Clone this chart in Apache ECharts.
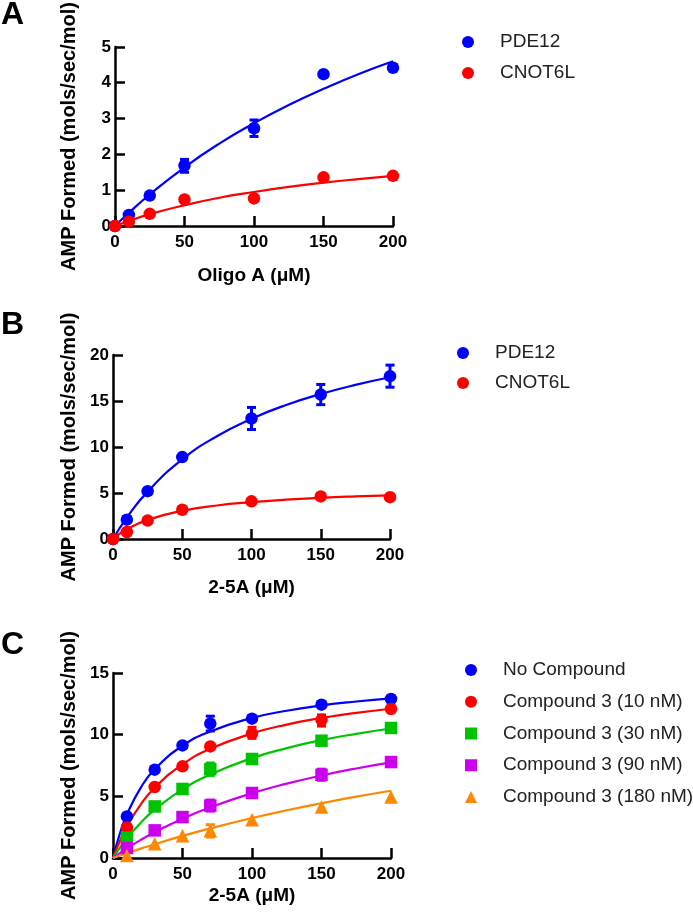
<!DOCTYPE html>
<html><head><meta charset="utf-8">
<script src="https://cdn.jsdelivr.net/npm/echarts@6/dist/echarts.min.js"></script>
<style>html,body{margin:0;padding:0;background:#fff}#c{width:693px;height:914px}</style>
</head><body><div id="c"></div>
<script>
// ---------- Panel A ----------
const xA = [0, 10, 25, 50, 100, 150, 200];
const pde12A = [0, 0.31, 0.85, 1.69, 2.73, 4.24, 4.42];
const cnotA = [0, 0.12, 0.34, 0.74, 0.77, 1.36, 1.40];
const errA_pde = [[50, 1.50, 1.86], [100, 2.50, 2.96]];
const fitX_AB = [0, 10, 25, 50, 75, 100, 125, 150, 175, 200];
const fitA_pde = [0, 0.37, 0.88, 1.64, 2.30, 2.87, 3.38, 3.83, 4.24, 4.60];
const fitA_cnot = [0, 0.14, 0.33, 0.58, 0.79, 0.95, 1.09, 1.21, 1.31, 1.40];

// ---------- Panel B ----------
const xB = [0, 10, 25, 50, 100, 150, 200];
const pde12B = [0, 2.1, 5.2, 8.9, 13.1, 15.7, 17.7];
const cnotB = [0, 0.76, 2.0, 3.18, 4.09, 4.63, 4.55];
const errB_pde = [[100, 11.9, 14.3], [150, 14.6, 16.8], [200, 16.5, 18.9]];
const fitB_pde = [0, 2.33, 5.15, 8.65, 11.17, 13.07, 14.57, 15.76, 16.75, 17.58];
const fitB_cnot = [0, 1.06, 2.08, 3.06, 3.64, 4.01, 4.28, 4.48, 4.63, 4.75];

// ---------- Panel C ----------
const xC = [10, 30, 50, 70, 100, 150, 200];
const noComp = [3.37, 7.16, 9.13, 10.9, 11.3, 12.43, 12.89];
const c10 = [2.48, 5.76, 7.43, 9.05, 10.1, 11.2, 12.08];
const c30 = [1.65, 4.18, 5.6, 7.2, 8.03, 9.51, 10.54];
const c90 = [0.81, 2.24, 3.32, 4.25, 5.27, 6.75, 7.78];
const c180 = [0.2, 1.16, 1.81, 2.2, 3.1, 4.13, 4.95];
const errC_noComp = [[70, 10.3, 11.5]];
const errC_c10 = [[100, 9.7, 10.6], [150, 10.7, 11.6]];
const errC_c30 = [[70, 6.7, 7.7]];
const errC_c90 = [[70, 3.8, 4.7], [150, 6.3, 7.2]];
const errC_c180 = [[70, 1.7, 2.7]];
const fitX_C = [0, 5, 10, 20, 30, 50, 70, 100, 125, 150, 175, 200];
const fitC_noComp = [0, 1.99, 3.52, 5.71, 7.20, 9.10, 10.26, 11.35, 11.94, 12.37, 12.69, 12.95];
const fitC_c10 = [0, 1.39, 2.54, 4.35, 5.70, 7.59, 8.85, 10.10, 10.82, 11.35, 11.77, 12.10];
const fitC_c30 = [0, 0.84, 1.58, 2.86, 3.92, 5.56, 6.77, 8.10, 8.91, 9.56, 10.07, 10.50];
const fitC_c90 = [0, 0.40, 0.77, 1.47, 2.09, 3.19, 4.11, 5.25, 6.03, 6.69, 7.26, 7.75];
const fitC_c180 = [0, 0.20, 0.39, 0.76, 1.12, 1.79, 2.40, 3.24, 3.87, 4.44, 4.97, 5.45];

const legendA = ['PDE12', 'CNOT6L'];
const legendC = ['No Compound', 'Compound 3 (10 nM)', 'Compound 3 (30 nM)', 'Compound 3 (90 nM)', 'Compound 3 (180 nM)'];

const BLUE = '#0000ff', RED = '#ff0000', GREEN = '#00c400', MAGENTA = '#cc00ee', ORANGE = '#ff8800';
const FONT = '"Liberation Sans", Arial, sans-serif';

function zip(xs, ys) { return xs.map((x, i) => [x, ys[i]]); }

function errRender(color) {
  return function (params, api) {
    const x = api.value(0), lo = api.value(1), hi = api.value(2);
    const p1 = api.coord([x, lo]), p2 = api.coord([x, hi]);
    const w = 4.5;
    const st = { stroke: color, lineWidth: 3 };
    return { type: 'group', children: [
      { type: 'line', shape: { x1: p1[0], y1: p1[1], x2: p2[0], y2: p2[1] }, style: st },
      { type: 'line', shape: { x1: p1[0] - w, y1: p1[1], x2: p1[0] + w, y2: p1[1] }, style: st },
      { type: 'line', shape: { x1: p2[0] - w, y1: p2[1], x2: p2[0] + w, y2: p2[1] }, style: st }
    ]};
  };
}

const grids = [
  { left: 115, top: 41, width: 278, height: 185 },
  { left: 113, top: 355, width: 277, height: 184 },
  { left: 113, top: 673, width: 278, height: 185 }
];

function xAxisDef(gi, name, gap) {
  return {
    type: 'value', gridIndex: gi, min: 0, max: 200, interval: 50,
    axisLine: { show: true, onZero: false, lineStyle: { color: '#000', width: 2.5 } },
    axisTick: { show: true, inside: true, length: 10, lineStyle: { color: '#000', width: 2.5 } },
    splitLine: { show: false },
    axisLabel: { color: '#000', fontWeight: 'bold', fontSize: 17, fontFamily: FONT, margin: 8 },
    name: name, nameLocation: 'middle', nameGap: gap,
    nameTextStyle: { color: '#000', fontWeight: 'bold', fontSize: 19, fontFamily: FONT }
  };
}
function yAxisDef(gi, max, interval, gap) {
  return {
    type: 'value', gridIndex: gi, min: 0, max: max, interval: interval,
    axisLine: { show: true, onZero: false, lineStyle: { color: '#000', width: 2.5 } },
    axisTick: { show: true, inside: true, length: 10, lineStyle: { color: '#000', width: 2.5 } },
    splitLine: { show: false },
    axisLabel: { color: '#000', fontWeight: 'bold', fontSize: 17, fontFamily: FONT, margin: 4 },
    name: 'AMP Formed (mols/sec/mol)', nameLocation: 'middle', nameGap: gap,
    nameTextStyle: { color: '#000', fontWeight: 'bold', fontSize: 20, fontFamily: FONT }
  };
}

function scatter(name, gi, xs, ys, color, symbol, size) {
  return { name: name, type: 'scatter', xAxisIndex: gi, yAxisIndex: gi, data: zip(xs, ys),
    symbol: symbol, symbolSize: size, itemStyle: { color: color, opacity: 1 }, z: 5, clip: false, silent: true };
}
function fit(name, gi, xs, ys, color) {
  return { name: name, type: 'line', xAxisIndex: gi, yAxisIndex: gi, data: zip(xs, ys), smooth: true,
    showSymbol: false, symbol: 'none', lineStyle: { color: color, width: 2.2 }, z: 3, silent: true };
}
function errs(name, gi, data, color) {
  return { name: name, type: 'custom', xAxisIndex: gi, yAxisIndex: gi, data: data,
    encode: { x: 0, y: [1, 2] }, renderItem: errRender(color), z: 4, silent: true };
}

function legendDef(names, left, top, gap) {
  return {
    data: names, orient: 'vertical', left: left, top: top, itemGap: gap,
    itemWidth: 12, itemHeight: 12, selectedMode: false,
    textStyle: { color: '#222', fontSize: 19, fontFamily: FONT, lineHeight: 20, padding: [0, 0, 0, 21] }
  };
}

const series = [
  fit('PDE12 fit A', 0, fitX_AB, fitA_pde, BLUE),
  fit('CNOT6L fit A', 0, fitX_AB, fitA_cnot, RED),
  errs('PDE12 err A', 0, errA_pde, BLUE),
  scatter('PDE12', 0, xA, pde12A, BLUE, 'circle', 12.5),
  scatter('CNOT6L', 0, xA, cnotA, RED, 'circle', 12.5),

  fit('PDE12 fit B', 1, fitX_AB, fitB_pde, BLUE),
  fit('CNOT6L fit B', 1, fitX_AB, fitB_cnot, RED),
  errs('PDE12 err B', 1, errB_pde, BLUE),
  scatter('PDE12', 1, xB, pde12B, BLUE, 'circle', 12.5),
  scatter('CNOT6L', 1, xB, cnotB, RED, 'circle', 12.5),

  fit('fit0', 2, fitX_C, fitC_noComp, BLUE),
  fit('fit1', 2, fitX_C, fitC_c10, RED),
  fit('fit2', 2, fitX_C, fitC_c30, GREEN),
  fit('fit3', 2, fitX_C, fitC_c90, MAGENTA),
  fit('fit4', 2, fitX_C, fitC_c180, ORANGE),
  errs('err0', 2, errC_noComp, BLUE),
  errs('err1', 2, errC_c10, RED),
  errs('err2', 2, errC_c30, GREEN),
  errs('err3', 2, errC_c90, MAGENTA),
  errs('err4', 2, errC_c180, ORANGE),
  scatter(legendC[0], 2, xC, noComp, BLUE, 'circle', 12.5),
  scatter(legendC[1], 2, xC, c10, RED, 'circle', 12.5),
  scatter(legendC[2], 2, xC, c30, GREEN, 'rect', 12.5),
  scatter(legendC[3], 2, xC, c90, MAGENTA, 'rect', 12.5),
  scatter(legendC[4], 2, xC, c180, ORANGE, 'triangle', 13.5)
];

const chart = echarts.init(document.getElementById('c'), null, { renderer: 'canvas' });
chart.setOption({
  backgroundColor: '#fff',
  animation: false,
  textStyle: { fontFamily: FONT },
  grid: grids,
  xAxis: [xAxisDef(0, 'Oligo A (μM)', 40), xAxisDef(1, '2-5A (μM)', 39), xAxisDef(2, '2-5A (μM)', 28)],
  yAxis: [yAxisDef(0, 5, 1, 36), yAxisDef(1, 20, 5, 34), yAxisDef(2, 15, 5, 34)],
  legend: [
    legendDef(legendA, 457, 27, 11),
    legendDef(legendA, 452, 338, 10),
    legendDef(legendC, 460, 655, 11.75)
  ],
  graphic: [
    { type: 'text', left: 1, top: -1, style: { text: 'A', font: 'bold 32px ' + FONT, fill: '#000' } },
    { type: 'text', left: 1, top: 309, style: { text: 'B', font: 'bold 32px ' + FONT, fill: '#000' } },
    { type: 'text', left: 1, top: 629, style: { text: 'C', font: 'bold 32px ' + FONT, fill: '#000' } }
  ],
  series: series
});
</script></body></html>
